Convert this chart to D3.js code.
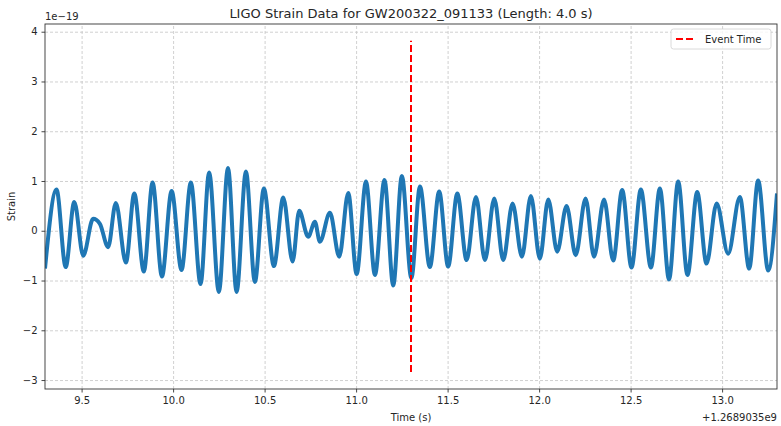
<!DOCTYPE html>
<html>
<head>
<meta charset="utf-8">
<script src="https://cdn.jsdelivr.net/npm/d3@7"></script>
<style>
  body { margin: 0; background: #fff; }
  text { font-family: "DejaVu Sans", sans-serif; fill: #262626; }
  .grid line { stroke: #c4c4c4; stroke-dasharray: 3,2; stroke-width: 0.8; }
  .grid .domain { display: none; }
  .axis .domain, .axis line { stroke: #333; stroke-width: 0.9; }
</style>
</head>
<body>
<div id="chart"></div>
<script>
// extrema of the strain trace (time offset from 1.2689035e9 s, strain in 1e-19)
const times = [9.300, 9.363, 9.413, 9.460, 9.509, 9.563, 9.600, 9.645, 9.687, 9.742,
               9.788, 9.840, 9.888, 9.939, 9.992, 10.046, 10.097, 10.150, 10.197, 10.250,
               10.300, 10.347, 10.398, 10.447, 10.496, 10.551, 10.602, 10.653, 10.689, 10.738,
               10.775, 10.802, 10.857, 10.908, 10.957, 11.003, 11.054, 11.103, 11.155, 11.203,
               11.250, 11.302, 11.349, 11.403, 11.454, 11.503, 11.553, 11.604, 11.655, 11.704,
               11.755, 11.804, 11.855, 11.906, 11.955, 12.004, 12.050, 12.099, 12.150, 12.200,
               12.254, 12.300, 12.355, 12.405, 12.454, 12.505, 12.556, 12.611, 12.660, 12.710,
               12.760, 12.811, 12.864, 12.915, 12.970, 13.033, 13.097, 13.148, 13.197, 13.252,
               13.300];
const strain = [-0.76, 0.83, -0.73, 0.58, -0.50, 0.24, 0.14, -0.33, 0.56, -0.64,
                0.75, -0.82, 0.97, -0.92, 0.80, -0.79, 0.97, -1.07, 1.17, -1.23,
                1.26, -1.23, 1.19, -1.03, 0.85, -0.71, 0.67, -0.62, 0.40, -0.12,
                0.18, -0.22, 0.36, -0.52, 0.76, -0.87, 0.99, -0.89, 1.02, -1.10,
                1.10, -0.95, 0.89, -0.73, 0.79, -0.72, 0.75, -0.59, 0.68, -0.59,
                0.65, -0.59, 0.55, -0.52, 0.70, -0.56, 0.63, -0.42, 0.50, -0.49,
                0.65, -0.52, 0.63, -0.60, 0.82, -0.74, 0.83, -0.74, 0.85, -0.98,
                0.99, -0.89, 0.78, -0.66, 0.55, -0.46, 0.68, -0.76, 1.01, -0.80,
                0.75];
const xTicks = [9.5, 10.0, 10.5, 11.0, 11.5, 12.0, 12.5, 13.0];
const yTicks = [-3, -2, -1, 0, 1, 2, 3, 4];
const eventTime = 11.30;
const eventRange = [-2.84, 3.82];
const xDomain = [9.3, 13.3];
const yDomain = [-3.18, 4.155];

const W = 781, H = 426;
const margin = {top: 24, right: 4, bottom: 37, left: 45};
const width = W - margin.left - margin.right;
const height = H - margin.top - margin.bottom;

const svg = d3.select("#chart")
              .append("svg")
              .attr("width", W)
              .attr("height", H);

const g = svg.append("g")
             .attr("transform", `translate(${margin.left},${margin.top})`);

const x = d3.scaleLinear().domain(xDomain).range([0, width]);
const y = d3.scaleLinear().domain(yDomain).range([height, 0]);

// grid
g.append("g")
 .attr("class", "grid")
 .attr("transform", `translate(0,${height})`)
 .call(d3.axisBottom(x).tickValues(xTicks).tickSize(-height).tickFormat(""));
g.append("g")
 .attr("class", "grid")
 .call(d3.axisLeft(y).tickValues(yTicks).tickSize(-width).tickFormat(""));

// strain trace
const data = times.map((t, i) => ({t: t, v: strain[i]}));
const line = d3.line()
               .x(d => x(d.t))
               .y(d => y(d.v))
               .curve(d3.curveMonotoneX);

g.append("clipPath").attr("id", "clip")
 .append("rect").attr("width", width).attr("height", height);

g.append("path")
 .datum(data)
 .attr("clip-path", "url(#clip)")
 .attr("d", line)
 .attr("fill", "none")
 .attr("stroke", "#1f77b4")
 .attr("stroke-width", 4)
 .attr("stroke-linejoin", "round");

// event marker
g.append("line")
 .attr("x1", x(eventTime)).attr("x2", x(eventTime))
 .attr("y1", y(eventRange[0])).attr("y2", y(eventRange[1]))
 .attr("stroke", "#ff0000")
 .attr("stroke-width", 2)
 .attr("stroke-dasharray", "7,3");

// axes
const xAxis = g.append("g")
               .attr("class", "axis")
               .attr("transform", `translate(0,${height})`)
               .call(d3.axisBottom(x).tickValues(xTicks).tickSize(3.5).tickPadding(4).tickFormat(d3.format(".1f")));
const yAxis = g.append("g")
               .attr("class", "axis")
               .call(d3.axisLeft(y).tickValues(yTicks).tickSize(3.5).tickPadding(4).tickFormat(d3.format("d")));
g.selectAll(".axis text").style("font-size", "10px").style("fill", "#262626");
g.selectAll(".axis .domain").remove();

// frame
g.append("rect")
 .attr("width", width).attr("height", height)
 .attr("fill", "none")
 .attr("stroke", "#333")
 .attr("stroke-width", 0.9);

// labels
svg.append("text")
   .attr("x", margin.left + width / 2).attr("y", 18)
   .attr("text-anchor", "middle")
   .style("font-size", "13px")
   .text("LIGO Strain Data for GW200322_091133 (Length: 4.0 s)");

svg.append("text")
   .attr("x", margin.left).attr("y", 20)
   .style("font-size", "10px")
   .text("1e\u221219");

svg.append("text")
   .attr("x", margin.left + width / 2).attr("y", 421)
   .attr("text-anchor", "middle")
   .style("font-size", "10px")
   .text("Time (s)");

svg.append("text")
   .attr("x", margin.left + width).attr("y", 421)
   .attr("text-anchor", "end")
   .style("font-size", "10px")
   .text("+1.2689035e9");

svg.append("text")
   .attr("transform", `translate(15,${margin.top + height / 2}) rotate(-90)`)
   .attr("text-anchor", "middle")
   .style("font-size", "10px")
   .text("Strain");

// legend
const legend = svg.append("g").attr("transform", "translate(671,29)");
legend.append("rect")
      .attr("width", 100).attr("height", 20)
      .attr("rx", 2.5)
      .attr("fill", "#fff").attr("fill-opacity", 0.8)
      .attr("stroke", "#d0d0d0").attr("stroke-width", 0.8);
legend.append("line")
      .attr("x1", 5).attr("x2", 25).attr("y1", 10).attr("y2", 10)
      .attr("stroke", "#ff0000").attr("stroke-width", 2)
      .attr("stroke-dasharray", "7,3");
legend.append("text")
      .attr("x", 34).attr("y", 13.5)
      .style("font-size", "10px")
      .text("Event Time");
</script>
</body>
</html>
